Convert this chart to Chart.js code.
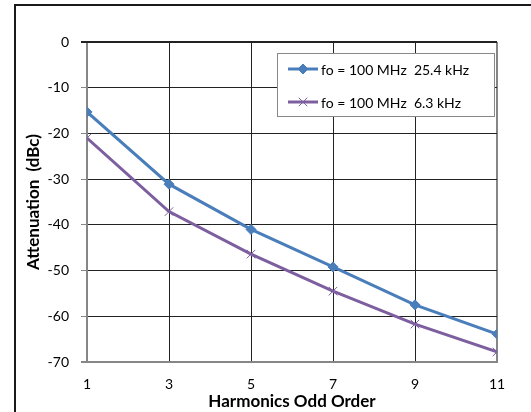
<!DOCTYPE html>
<html>
<head>
    <title>Harmonics Attenuation</title>
    <script src="https://cdn.jsdelivr.net/npm/chart.js@4.4.0/dist/chart.umd.min.js"></script>
    <style>
        html, body { margin: 0; padding: 0; background: #fff; }
        #wrap { width: 531px; height: 412px; }
    </style>
</head>
<body>
    <div id="wrap"><canvas id="harmChart" width="531" height="412"></canvas></div>
    <script>
        // harmonic order (odd) on the x axis
        var orders = [1, 3, 5, 7, 9, 11];
        // attenuation in dBc
        var att25k = [-15.3, -31.1, -41.0, -49.2, -57.5, -63.9];
        var att6k  = [-21.0, -37.1, -46.4, -54.5, -61.7, -67.8];
        var seriesLabels = ['fo = 100 MHz  25.4 kHz', 'fo = 100 MHz  6.3 kHz'];
        var yTicks = [-70, -60, -50, -40, -30, -20, -10, 0];

        var FONT = 'Lato, "Open Sans", sans-serif';
        var GRID = '#222';
        var EDGE = '#868686';

        function pts(ys) {
            return orders.map(function (o, i) { return { x: o, y: ys[i] }; });
        }

        // frame round the whole chart + legend box inside the plot
        var frame = {
            id: 'frame',
            beforeDraw: function (chart) {
                var c = chart.ctx;
                c.save();
                c.fillStyle = '#fff';
                c.fillRect(0, 0, chart.width, chart.height);
                c.lineWidth = 2;
                c.strokeStyle = '#1a1a1a';
                c.strokeRect(15, 5, 600, 600);
                c.restore();
            },
            afterDraw: function (chart) {
                var a = chart.chartArea, c = chart.ctx;
                c.save();
                // top edge of the plot (0 dBc line)
                c.fillStyle = GRID;
                c.fillRect(a.left - 6, Math.round(a.top) - 1, a.right - a.left + 6, 2);

                var x0 = 277, y0 = 53, w = 217, h = 63;
                c.fillStyle = '#fff';
                c.fillRect(x0, y0, w, h);
                c.lineWidth = 1;
                c.strokeStyle = '#888';
                c.strokeRect(x0 + 0.5, y0 + 0.5, w, h);
                chart.data.datasets.forEach(function (ds, i) {
                    var ly = y0 + 16 + i * 33;
                    c.strokeStyle = ds.borderColor;
                    c.lineWidth = 3;
                    c.beginPath();
                    c.moveTo(288, ly);
                    c.lineTo(318, ly);
                    c.stroke();
                    c.fillStyle = ds.pointBackgroundColor;
                    c.strokeStyle = ds.pointBorderColor;
                    c.lineWidth = ds.pointBorderWidth;
                    Chart.helpers.drawPoint(c, {
                        pointStyle: ds.pointStyle,
                        radius: ds.pointRadius,
                        borderWidth: ds.pointBorderWidth
                    }, 303, ly);
                    c.fillStyle = '#000';
                    c.font = '14px ' + FONT;
                    c.textBaseline = 'middle';
                    c.fillText(ds.label, 321, ly + 1);
                });
                c.restore();
            }
        };

        var ctx = document.getElementById('harmChart').getContext('2d');
        var chart = new Chart(ctx, {
            type: 'line',
            data: {
                datasets: [{
                    label: seriesLabels[0],
                    data: pts(att25k),
                    borderColor: '#4a7ebb',
                    backgroundColor: '#4a7ebb',
                    borderWidth: 3,
                    pointStyle: 'rectRot',
                    pointRadius: 5,
                    pointBorderWidth: 1,
                    pointBackgroundColor: '#4a7ebb',
                    pointBorderColor: '#4a7ebb'
                }, {
                    label: seriesLabels[1],
                    data: pts(att6k),
                    borderColor: '#7d5fa0',
                    backgroundColor: '#7d5fa0',
                    borderWidth: 3,
                    pointStyle: 'crossRot',
                    pointRadius: 6,
                    pointBorderWidth: 1,
                    pointBackgroundColor: '#7d5fa0',
                    pointBorderColor: '#7d5fa0'
                }]
            },
            options: {
                responsive: false,
                animation: false,
                layout: { padding: { left: 16, top: 42, right: 34, bottom: 0 } },
                plugins: {
                    legend: { display: false },
                    tooltip: { enabled: false }
                },
                scales: {
                    x: {
                        type: 'linear',
                        min: 1,
                        max: 11,
                        afterFit: function (s) { s.height = 50; },
                        afterBuildTicks: function (s) {
                            s.ticks = orders.map(function (v) { return { value: v }; });
                        },
                        ticks: { color: '#000', padding: 14, font: { family: FONT, size: 14 } },
                        border: { color: EDGE, width: 2 },
                        grid: {
                            drawTicks: false,
                            color: function (c) { return c.tick && c.tick.value === 11 ? EDGE : GRID; },
                            lineWidth: function (c) { return c.tick && c.tick.value === 11 ? 2 : 1; }
                        },
                        title: {
                            display: true,
                            text: 'Harmonics Odd Order',
                            color: '#000',
                            padding: { top: 0, bottom: 0 },
                            font: { family: FONT, size: 17, weight: 'bold' }
                        }
                    },
                    y: {
                        min: -70,
                        max: 0,
                        afterFit: function (s) { s.width = 71; },
                        afterBuildTicks: function (s) {
                            s.ticks = yTicks.map(function (v) { return { value: v }; });
                        },
                        ticks: { color: '#000', padding: 12, font: { family: FONT, size: 14 } },
                        border: { color: EDGE, width: 2 },
                        grid: {
                            tickLength: 6,
                            color: function (c) { return c.tick && c.tick.value === -70 ? EDGE : GRID; },
                            tickColor: EDGE,
                            lineWidth: function (c) { return c.tick && c.tick.value === -70 ? 2 : 1; }
                        },
                        title: {
                            display: true,
                            text: 'Attenuation  (dBc)',
                            color: '#000',
                            padding: { top: 7, bottom: 0 },
                            font: { family: FONT, size: 17, weight: 'bold' }
                        }
                    }
                }
            },
            plugins: [frame]
        });
    </script>
</body>
</html>
